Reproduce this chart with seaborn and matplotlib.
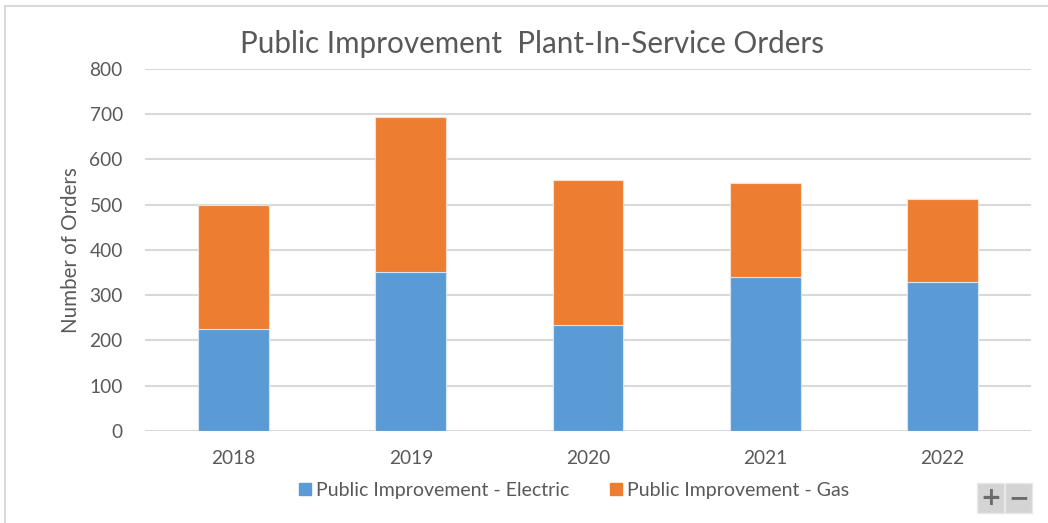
import pandas as pd
import matplotlib.pyplot as plt
import seaborn as sns
from matplotlib.patches import Rectangle
from matplotlib.lines import Line2D

# Dados
anos = ['2018', '2019', '2020', '2021', '2022']
eletrico = [225, 351, 234, 340, 330]
gas = [275, 343, 321, 208, 183]

df = pd.DataFrame({'ano': anos, 'eletrico': eletrico, 'gas': gas})
df['total'] = df['eletrico'] + df['gas']

azul = '#5B9BD5'
laranja = '#ED7D31'
cinza = '#595959'

sns.set_style('white')
plt.rcParams['font.family'] = ['Lato', 'DejaVu Sans']

fig = plt.figure(figsize=(10.48, 5.23), dpi=100)
ax = fig.add_axes([0.1384, 0.1759, 0.8454, 0.6922])

# Barras empilhadas: total (gás) por baixo, elétrico por cima
sns.barplot(data=df, x='ano', y='total', color=laranja, width=0.4,
            saturation=1, ax=ax, zorder=2, edgecolor='#fbe0cf', linewidth=0.8)
sns.barplot(data=df, x='ano', y='eletrico', color=azul, width=0.4,
            saturation=1, ax=ax, zorder=3, edgecolor='#d6e6f5', linewidth=0.8)

ax.set_ylim(0, 800)
ax.set_yticks(range(0, 801, 100))
ax.set_xlim(-0.5, 4.5)
ax.yaxis.grid(True, color='#d9d9d9', linewidth=1.5, zorder=0)
ax.set_axisbelow(True)
for lado in ax.spines.values():
    lado.set_visible(False)
ax.tick_params(axis='both', length=0, labelsize=13.8, labelcolor=cinza)
ax.tick_params(axis='y', pad=16)
ax.tick_params(axis='x', pad=13.5)
ax.set_xlabel('')
ax.set_ylabel('Number of Orders', fontsize=14.8, color=cinza, labelpad=6)

fig.text(0.508, 0.915, 'Public Improvement  Plant-In-Service Orders',
         ha='center', va='center', fontsize=21.3, color=cinza)

# Legenda
itens = [Line2D([], [], marker='s', linestyle='', markersize=8.5,
                markerfacecolor=azul, markeredgecolor=azul,
                label='Public Improvement - Electric'),
         Line2D([], [], marker='s', linestyle='', markersize=8.5,
                markerfacecolor=laranja, markeredgecolor=laranja,
                label='Public Improvement - Gas')]
fig.legend(handles=itens, loc='center', bbox_to_anchor=(0.548, 0.063),
           ncol=2, frameon=False, fontsize=14, labelcolor=cinza,
           handlelength=0.6, handletextpad=0.25, columnspacing=2.1)

# Moldura do gráfico
fig.patches.append(Rectangle((5 / 1048, -0.05), 1.1, 1 - 5.5 / 523 + 0.05,
                             transform=fig.transFigure, fill=False,
                             edgecolor='#d9d9d9', linewidth=1.5))

# Botões + e -
for x0, simbolo in [(977, '+'), (1005, '\u2212')]:
    fig.patches.append(Rectangle((x0 / 1048, 10 / 523), 27 / 1048, 30 / 523,
                                 transform=fig.transFigure, facecolor='#d4d4d4',
                                 edgecolor='#e8e8e8', linewidth=1))
    fig.text((x0 + 13.5) / 1048, 25 / 523, simbolo, ha='center', va='center',
             fontsize=18, fontweight='bold', color='#6b6b6b',
             family='DejaVu Sans')

plt.savefig('out.png', dpi=100)
